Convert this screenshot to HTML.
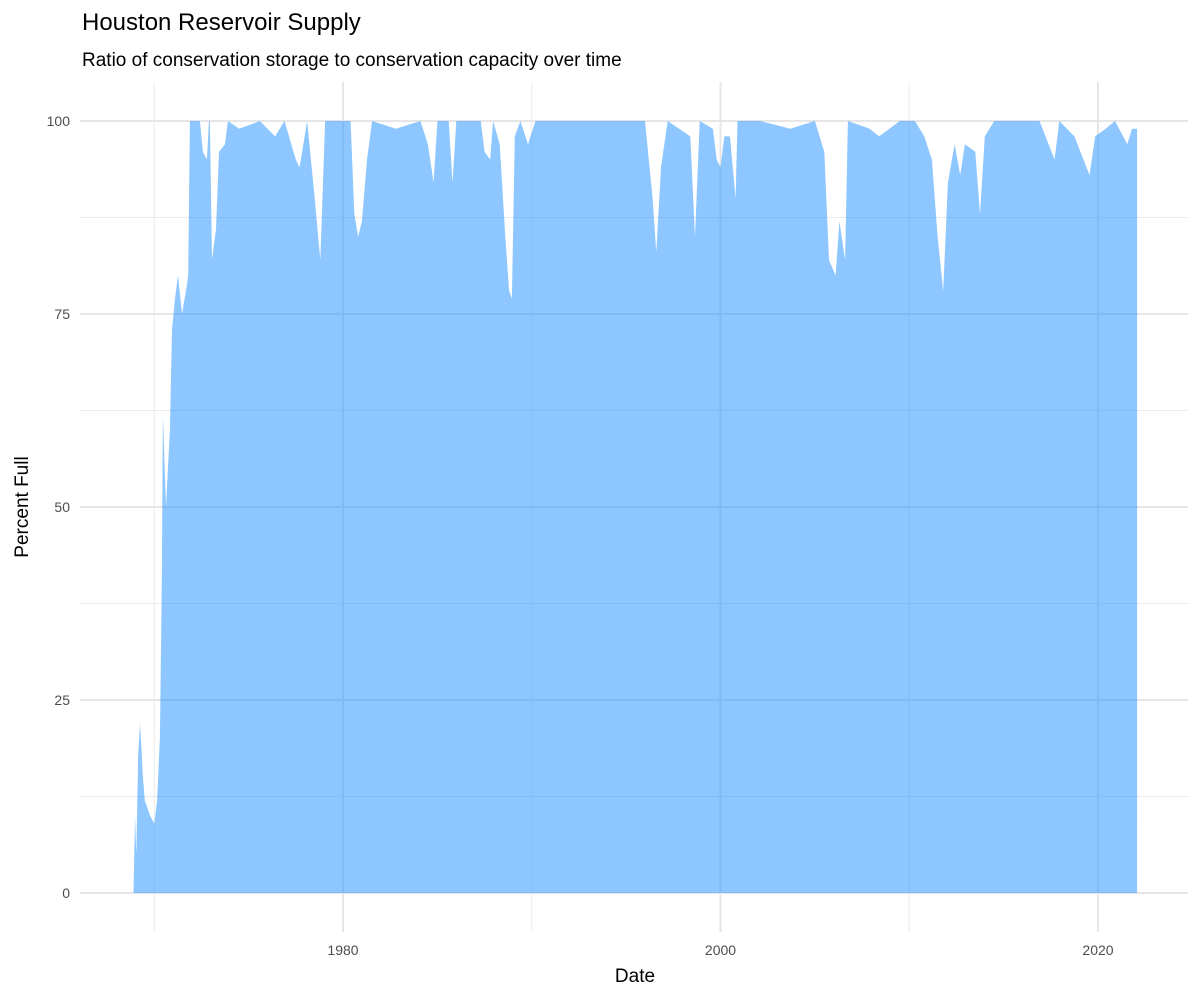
<!DOCTYPE html>
<html><head><meta charset="utf-8"><style>
body{margin:0;background:#fff;}
svg text{font-family:"Liberation Sans",sans-serif;}
</style></head><body>
<svg id="chart" width="1200" height="1000" xmlns="http://www.w3.org/2000/svg">
<text x="82" y="30" font-size="24" fill="#000">Houston Reservoir Supply</text>
<text x="82" y="66" font-size="19" fill="#000">Ratio of conservation storage to conservation capacity over time</text>
<g id="grid"></g>
<g id="area"></g>
<g id="axes"></g>
<text x="635" y="982" font-size="19" text-anchor="middle" fill="#000">Date</text>
<text transform="translate(28,507) rotate(-90)" font-size="19" text-anchor="middle" fill="#000">Percent Full</text>
</svg>
<script>
const years=[1968.72,1968.9,1968.98,1969.05,1969.15,1969.25,1969.4,1969.5,1969.78,1970.0,1970.15,1970.3,1970.4,1970.46,1970.62,1970.83,1970.94,1971.1,1971.26,1971.47,1971.68,1971.8,1971.89,1972.42,1972.58,1972.79,1972.9,1972.95,1973.06,1973.27,1973.43,1973.75,1973.9,1974.5,1975.6,1976.4,1976.9,1977.5,1977.7,1978.1,1978.5,1978.8,1978.9,1979.05,1980.4,1980.6,1980.8,1981.0,1981.27,1981.54,1982.8,1984.1,1984.5,1984.8,1985.0,1985.6,1985.8,1986.0,1987.3,1987.5,1987.8,1987.95,1988.3,1988.6,1988.8,1988.95,1989.1,1989.4,1989.8,1990.2,1991.5,1993.6,1996.0,1996.4,1996.6,1996.85,1997.2,1998.4,1998.65,1998.9,1999.6,1999.8,2000.0,2000.2,2000.5,2000.8,2000.9,2002.1,2003.7,2005.0,2005.5,2005.75,2006.1,2006.3,2006.6,2006.75,2007.9,2008.4,2009.5,2010.3,2010.8,2011.2,2011.5,2011.8,2012.05,2012.4,2012.7,2012.95,2013.5,2013.75,2014.0,2014.5,2015.3,2016.9,2017.7,2017.95,2018.75,2019.55,2019.85,2020.4,2020.9,2021.55,2021.8,2022.07];
const pct=[0,0,10,5,18,22,15,12,10,9,12,20,40,62,50,60,73,77,80,75,78,80,100,100,96,95,100,100,82,86,96,97,100,99,100,98,100,95,94,100,90,82,89,100,100,88,85,87,95,100,99,100,97,92,100,100,92,100,100,96,95,100,97,85,78,77,98,100,97,100,100,100,100,90,83,94,100,98,85,100,99,95,94,98,98,90,100,100,99,100,96,82,80,87,82,100,99,98,100,100,98,95,85,78,92,97,93,97,96,88,98,100,100,100,95,100,98,93,98,99,100,97,99,99];
const xTicks=[1980,2000,2020];
const xMinor=[1970,1990,2010];
const yTicks=[0,25,50,75,100];
const yMinor=[12.5,37.5,62.5,87.5];
const NS="http://www.w3.org/2000/svg";
const X=y=>343+(y-1980)*18.875;
const Y=v=>893-v*7.72;
function mk(tag,attrs,parent){const e=document.createElementNS(NS,tag);for(const k in attrs)e.setAttribute(k,attrs[k]);parent.appendChild(e);return e;}
const grid=document.getElementById('grid'),axes=document.getElementById('axes'),area=document.getElementById('area');
xMinor.forEach(t=>{const l=mk('line',{x1:X(t),x2:X(t),y1:82,y2:932,stroke:'#ebebeb','stroke-width':1},grid);

});
yMinor.forEach(t=>{const l=mk('line',{x1:80,x2:1188,y1:Y(t),y2:Y(t),stroke:'#ebebeb','stroke-width':1},grid);

});
xTicks.forEach(t=>{const l=mk('line',{x1:X(t),x2:X(t),y1:82,y2:932,stroke:'#e6e6e6','stroke-width':2},grid);


const tx=mk('text',{x:X(t),y:955,'font-size':14,'text-anchor':'middle',fill:'#4d4d4d'},axes);tx.textContent=t;

});
yTicks.forEach(t=>{const l=mk('line',{x1:80,x2:1188,y1:Y(t),y2:Y(t),stroke:'#e6e6e6','stroke-width':2},grid);


const tx=mk('text',{x:70,y:Y(t)+5,'font-size':14,'text-anchor':'end',fill:'#4d4d4d'},axes);tx.textContent=t;

});
let d='M'+X(years[0])+','+Y(0);
years.forEach((yr,i)=>{d+=' L'+X(yr).toFixed(1)+','+Y(pct[i]).toFixed(1);});
d+=' L'+X(years[years.length-1])+','+Y(0)+' Z';
const p=mk('path',{d:d,fill:'rgba(30,144,255,0.5)'},area);


</script>
</body></html>
